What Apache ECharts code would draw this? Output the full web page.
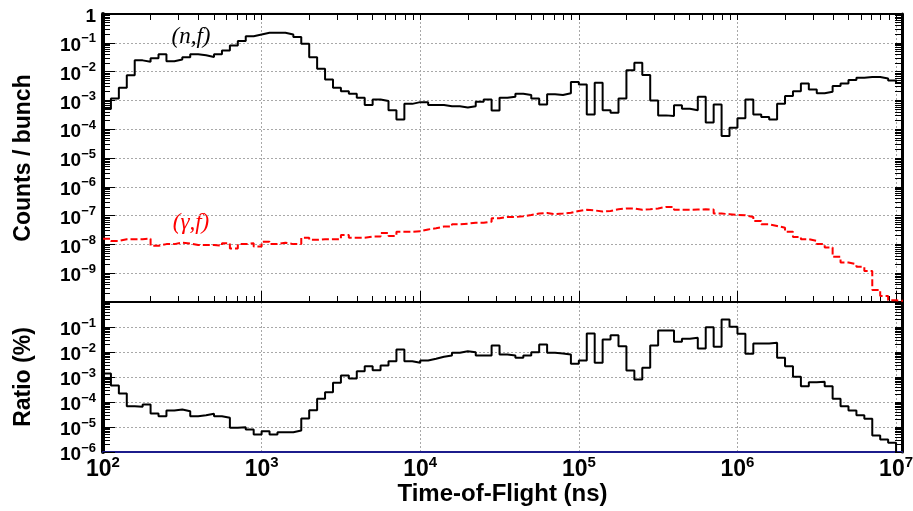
<!DOCTYPE html>
<html>
<head>
<meta charset="utf-8">
<title>Time-of-Flight</title>
<script src="https://cdn.jsdelivr.net/npm/echarts@6/dist/echarts.min.js"></script>
<style>
  html, body { margin: 0; padding: 0; background: #fff; }
  #chart { width: 913px; height: 511px; }
</style>
</head>
<body>
<div id="chart"></div>
<script>
  // histogram binning: 20 log bins per decade, starting at 1e2 ns
  const binStart = 2
  const binWidth = 0.05
  const nBins = 101
  const xMax = 1.09e7

  const xTicks = [1e2, 1e3, 1e4, 1e5, 1e6, 1e7]
  const yTopTicks = [1e-10, 1e-9, 1e-8, 1e-7, 1e-6, 1e-5, 1e-4, 1e-3, 1e-2, 1e-1, 1]
  const yTopLabels = [1e-9, 1e-8, 1e-7, 1e-6, 1e-5, 1e-4, 1e-3, 1e-2, 1e-1, 1]
  const yRatioTicks = [1e-6, 1e-5, 1e-4, 1e-3, 1e-2, 1e-1, 1]
  const yRatioLabels = [1e-6, 1e-5, 1e-4, 1e-3, 1e-2, 1e-1]

  // values, stored as log10 of the bin content
  // (n,f) counts / bunch
  const nfExp = [
    -3.30, -2.93, -2.56, -2.13, -1.61, -1.66, -1.54, -1.40, -1.64, -1.58,
    -1.50, -1.40, -1.43, -1.49, -1.40, -1.27, -1.09, -0.94, -0.77, -0.71,
    -0.65, -0.65, -0.65, -0.71, -0.80, -1.03, -1.50, -1.90, -2.27, -2.56,
    -2.68, -2.77, -2.91, -3.16, -2.97, -3.02, -3.34, -3.66, -3.12, -3.06,
    -3.06, -3.16, -3.16, -3.20, -3.20, -3.25, -3.20, -3.05, -2.97, -3.35,
    -2.91, -2.87, -2.77, -2.81, -2.93, -3.14, -2.79, -2.81, -2.75, -2.36,
    -2.45, -3.49, -2.39, -3.34, -3.43, -2.93, -1.95, -1.69, -2.12, -3.00,
    -3.52, -3.54, -3.17, -3.29, -3.34, -2.87, -3.77, -3.14, -4.24, -3.95,
    -3.62, -2.97, -3.49, -3.58, -3.66, -3.12, -2.85, -2.68, -2.41, -2.62,
    -2.75, -2.70, -2.50, -2.41, -2.29, -2.21, -2.19, -2.19, -2.24, -2.31,
    -2.40
  ]
  // (gamma,f) counts / bunch
  const gfExp = [
    -7.80, -7.88, -7.82, -7.82, -7.82, -7.80, -8.05, -7.99, -7.99, -7.94,
    -7.97, -8.02, -8.02, -8.02, -8.05, -7.96, -8.14, -7.99, -7.96, -8.07,
    -7.91, -7.99, -7.94, -7.99, -7.99, -7.77, -7.84, -7.82, -7.82, -7.82,
    -7.67, -7.77, -7.77, -7.73, -7.73, -7.60, -7.71, -7.56, -7.56, -7.54,
    -7.48, -7.44, -7.38, -7.38, -7.30, -7.28, -7.25, -7.25, -7.21, -7.09,
    -7.05, -7.05, -7.02, -6.98, -6.93, -6.91, -6.95, -6.93, -6.90, -6.84,
    -6.80, -6.82, -6.86, -6.84, -6.78, -6.75, -6.75, -6.80, -6.78, -6.75,
    -6.70, -6.70, -6.80, -6.80, -6.79, -6.78, -6.79, -6.93, -6.95, -6.98,
    -6.99, -7.05, -7.19, -7.30, -7.36, -7.42, -7.56, -7.74, -7.82, -7.88,
    -7.99, -8.11, -8.43, -8.63, -8.69, -8.78, -8.92, -9.58, -9.79, -9.94,
    -9.96
  ]
  // ratio (%), last bin empty (below the axis)
  const ratioExp = [
    -2.86, -3.34, -3.66, -4.17, -4.19, -4.10, -4.46, -4.57, -4.34, -4.30,
    -4.37, -4.57, -4.53, -4.47, -4.57, -4.63, -5.03, -5.01, -5.10, -5.30,
    -5.17, -5.30, -5.21, -5.21, -5.14, -4.66, -4.33, -3.87, -3.61, -3.23,
    -2.94, -3.06, -2.77, -2.57, -2.73, -2.54, -2.37, -1.90, -2.37, -2.43,
    -2.34, -2.27, -2.19, -2.14, -2.03, -1.97, -2.01, -2.14, -2.14, -1.74,
    -2.10, -2.14, -2.23, -2.14, -2.01, -1.70, -2.03, -2.06, -2.10, -2.47,
    -2.34, -1.26, -2.43, -1.50, -1.33, -1.77, -2.74, -3.10, -2.63, -1.74,
    -1.14, -1.14, -1.59, -1.47, -1.43, -1.86, -1.01, -1.79, -0.70, -0.99,
    -1.27, -2.07, -1.66, -1.66, -1.63, -2.23, -2.57, -2.99, -3.37, -3.21,
    -3.19, -3.37, -3.87, -4.17, -4.34, -4.53, -4.67, -5.34, -5.50, -5.63,
    -7.00
  ]

  const fontSans = "'Liberation Sans', Arial, Helvetica, sans-serif"
  const fontSerif = "'Liberation Serif', 'Times New Roman', serif"

  let edges = []
  for (let i = 0; i <= nBins; i++) {
    edges.push(Math.pow(10, +(binStart + binWidth * i).toFixed(4)))
  }

  // left edge of every bin, plus the closing right edge, for step:'end'
  function toSteps (exps) {
    let pts = exps.map((e, i) => [edges[i], Math.pow(10, e)])
    pts.push([edges[exps.length], Math.pow(10, exps[exps.length - 1])])
    return pts
  }

  // 2..9 x 10^k minor tick positions
  function minorTicks (lo, hi) {
    let out = []
    for (let k = lo; k < hi; k++) {
      for (let m = 2; m <= 9; m++) out.push(m * Math.pow(10, k))
    }
    return out
  }
  const xMinor = minorTicks(2, 7)
  const xAll = xMinor.concat(xTicks)
  const yTopMinor = minorTicks(-10, 0)
  const yTopAll = yTopMinor.concat(yTopTicks)
  const yRatioMinor = minorTicks(-6, 0)
  const yRatioAll = yRatioMinor.concat(yRatioTicks)

  function powLabel (v) {
    const e = Math.round(Math.log10(v))
    if (e === 0) return '{b|1}'
    return '{b|10}{s|' + (e < 0 ? '\u2212' + (-e) : e) + '}'
  }

  const gridLine = { show: true, lineStyle: { color: '#a8a8a8', type: [2, 2], width: 1 } }
  const tickStyle = { color: '#000', width: 1 }

  function labelRich (size, supSize, drop) {
    return {
      b: { fontSize: size, fontWeight: 'bold', fontFamily: fontSans, color: '#000', lineHeight: size + 2, padding: [drop, 0, 0, 0] },
      s: { fontSize: supSize, fontWeight: 'bold', fontFamily: fontSans, color: '#000', lineHeight: supSize + 1, verticalAlign: 'top' }
    }
  }

  // plain helper axis only carrying ticks / frame lines
  function tickAxis (grid, pos, min, max, values, len, lineWidth) {
    return {
      gridIndex: grid,
      type: 'log',
      position: pos,
      min: min,
      max: max,
      axisLine: { show: lineWidth > 0, onZero: false, lineStyle: { color: '#000', width: lineWidth } },
      axisTick: { show: true, inside: true, length: len, customValues: values, lineStyle: tickStyle },
      axisLabel: { show: false },
      splitLine: { show: false }
    }
  }

  let myChart = echarts.init(document.getElementById('chart'))
  myChart.setOption({
    animation: false,
    backgroundColor: '#fff',
    grid: [
      { left: 103, right: 11, top: 14, height: 288, outerBoundsMode: 'none' },
      { left: 103, right: 11, top: 302, height: 150, outerBoundsMode: 'none' }
    ],
    xAxis: [
      {
        gridIndex: 0,
        type: 'log',
        position: 'bottom',
        min: 1e2,
        max: xMax,
        axisLine: { show: true, onZero: false, lineStyle: { color: '#000', width: 2 } },
        axisTick: { show: true, inside: true, length: 11, customValues: xTicks, lineStyle: tickStyle },
        axisLabel: { show: false },
        splitLine: gridLine
      },
      tickAxis(0, 'bottom', 1e2, xMax, xMinor, 6, 0),
      tickAxis(0, 'top', 1e2, xMax, xAll, 6, 2),
      {
        gridIndex: 1,
        type: 'log',
        position: 'bottom',
        min: 1e2,
        max: xMax,
        axisLine: { show: true, onZero: false, lineStyle: { color: '#1c1c8c', width: 2 } },
        axisTick: { show: false, customValues: xTicks },
        axisLabel: {
          customValues: xTicks,
          margin: 3,
          formatter: powLabel,
          rich: labelRich(23, 15, 5)
        },
        splitLine: gridLine,
        name: 'Time-of-Flight (ns)',
        nameLocation: 'middle',
        nameGap: 30,
        nameTextStyle: { fontSize: 24, fontWeight: 'bold', fontFamily: fontSans, color: '#000' }
      }
    ],
    yAxis: [
      {
        gridIndex: 0,
        type: 'log',
        position: 'left',
        min: 1e-10,
        max: 1,
        axisLine: { show: true, onZero: false, lineStyle: { color: '#000', width: 4 } },
        axisTick: { show: true, inside: true, length: 12, customValues: yTopTicks, lineStyle: tickStyle },
        axisLabel: {
          customValues: yTopLabels,
          margin: 7,
          formatter: powLabel,
          rich: labelRich(19, 13, 6)
        },
        splitLine: gridLine,
        name: 'Counts / bunch',
        nameLocation: 'middle',
        nameGap: 68,
        nameTextStyle: { fontSize: 23, fontWeight: 'bold', fontFamily: fontSans, color: '#000' }
      },
      tickAxis(0, 'left', 1e-10, 1, yTopMinor, 7, 0),
      tickAxis(0, 'right', 1e-10, 1, yTopAll, 7, 3),
      {
        gridIndex: 1,
        type: 'log',
        position: 'left',
        min: 1e-6,
        max: 1,
        axisLine: { show: true, onZero: false, lineStyle: { color: '#000', width: 4 } },
        axisTick: { show: true, inside: true, length: 12, customValues: yRatioTicks, lineStyle: tickStyle },
        axisLabel: {
          customValues: yRatioLabels,
          margin: 7,
          formatter: powLabel,
          rich: labelRich(19, 13, 6)
        },
        splitLine: gridLine,
        name: 'Ratio (%)',
        nameLocation: 'middle',
        nameGap: 68,
        nameTextStyle: { fontSize: 23, fontWeight: 'bold', fontFamily: fontSans, color: '#000' }
      },
      tickAxis(1, 'left', 1e-6, 1, yRatioMinor, 7, 0),
      tickAxis(1, 'right', 1e-6, 1, yRatioAll, 7, 3)
    ],
    graphic: [
      {
        type: 'text',
        x: 191,
        y: 37,
        style: { text: '(n,f)', fill: '#000', font: 'italic 23px ' + fontSerif, align: 'center', verticalAlign: 'middle' }
      },
      {
        type: 'text',
        x: 191,
        y: 223,
        style: { text: '(\u03b3,f)', fill: '#ff0000', font: 'italic 23px ' + fontSerif, align: 'center', verticalAlign: 'middle' }
      }
    ],
    series: [
      {
        name: '(n,f)',
        type: 'line',
        xAxisIndex: 0,
        yAxisIndex: 0,
        step: 'end',
        symbol: 'none',
        data: toSteps(nfExp),
        lineStyle: { color: '#000', width: 2 },
        itemStyle: { color: '#000' },
        z: 5
      },
      {
        name: '(\u03b3,f)',
        type: 'line',
        xAxisIndex: 0,
        yAxisIndex: 0,
        step: 'end',
        symbol: 'none',
        data: toSteps(gfExp),
        lineStyle: { color: '#ff0000', width: 2, type: [7, 3] },
        itemStyle: { color: '#ff0000' },
        z: 5
      },
      {
        name: 'Ratio',
        type: 'line',
        xAxisIndex: 3,
        yAxisIndex: 3,
        step: 'end',
        symbol: 'none',
        data: toSteps(ratioExp),
        lineStyle: { color: '#000', width: 2 },
        itemStyle: { color: '#000' },
        z: 5
      }
    ]
  })
</script>
</body>
</html>
